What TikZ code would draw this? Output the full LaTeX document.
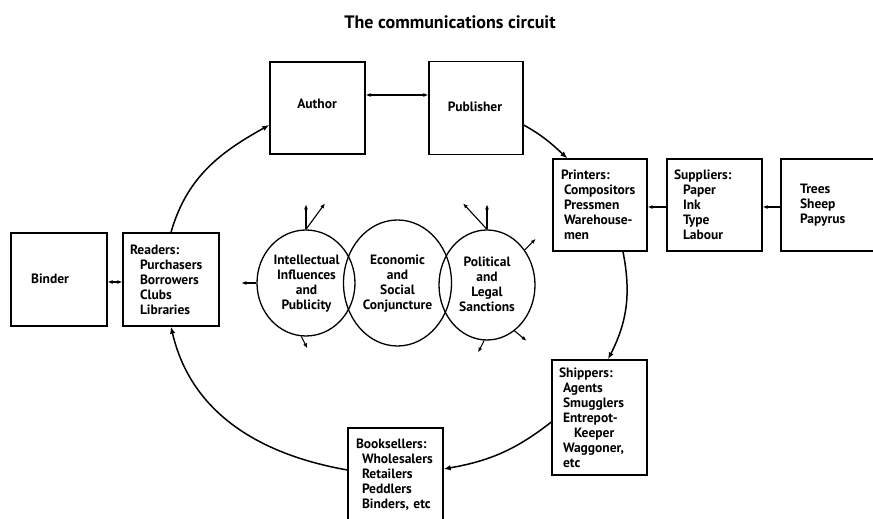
\documentclass[tikz,border=0pt]{standalone}
\usepackage{fontspec}
\setmainfont{PT Sans}
\newfontfamily\titlefont{PT Sans Bold}
\usetikzlibrary{arrows.meta,shapes.geometric,calc}
\begin{document}
\begin{tikzpicture}[x=1pt,y=1pt,
  cbox/.style={draw, line width=1.3pt, align=left, inner ysep=0pt, font=\bfseries\fontsize{13.5}{15}\selectfont},
  ell/.style={draw, ellipse, line width=1.3pt, inner sep=0pt},
  ctext/.style={align=center, font=\bfseries\fontsize{13.5}{15}\selectfont, inner sep=0pt},
  btext/.style={font=\bfseries\fontsize{13.5}{15}\selectfont, inner sep=0pt},
  ring/.style={line width=1.5pt, -{Latex[length=7pt,width=5.5pt]}},
  sarr/.style={line width=1.1pt, -{Latex[length=5pt,width=4pt]}},
  darr/.style={line width=1.3pt, {Latex[length=5pt,width=4pt]}-{Latex[length=5pt,width=4pt]}},
]
\useasboundingbox (0,0) rectangle (873,519);
\clip (0,0) rectangle (873,519);

% title
\node[font=\titlefont\fontsize{18}{20}\selectfont] (title) at (450,497) {The communications circuit};

% boxes
\node[cbox, minimum width=95pt, minimum height=92pt] (author) at (317.5,411) {};
\node[btext] (authortext) at (317,415) {Author};
\node[cbox, minimum width=94pt, minimum height=93pt] (publisher) at (476,411) {};
\node[btext] (publishertext) at (475,412) {Publisher};
\node[cbox, minimum width=96pt, minimum height=93pt] (binder) at (59,239.5) {};
\node[btext] (bindertext) at (50,240) {Binder};

\node[cbox, minimum width=96pt, minimum height=93pt, text width=82pt, inner xsep=7pt] (readers) at (171,239.5)
  {Readers:\\\hspace*{10pt}Purchasers\\\hspace*{10pt}Borrowers\\\hspace*{10pt}Clubs\\\hspace*{10pt}Libraries};

\node[cbox, minimum width=94pt, minimum height=92pt, text width=78pt, inner xsep=8pt] (printers) at (600,314)
  {Printers:\\\hspace*{3pt}Compositors\\\hspace*{3pt}Pressmen\\\hspace*{3pt}Warehouse-\\\hspace*{3pt}men};

\node[cbox, minimum width=95pt, minimum height=92pt, text width=81pt, inner xsep=7pt] (suppliers) at (714.5,314)
  {Suppliers:\\\hspace*{9pt}Paper\\\hspace*{9pt}Ink\\\hspace*{9pt}Type\\\hspace*{9pt}Labour};

\node[cbox, minimum width=102pt, minimum height=92pt, text width=64pt, inner xsep=19pt] (trees) at (832,314)
  {Trees\\Sheep\\Papyrus};

\node[cbox, minimum width=95pt, minimum height=115pt, text width=81pt, inner xsep=7pt] (shippers) at (599.5,101.5)
  {Shippers:\\\hspace*{4pt}Agents\\\hspace*{4pt}Smugglers\\\hspace*{4pt}Entrepot-\\\hspace*{15pt}Keeper\\\hspace*{4pt}Waggoner,\\\hspace*{4pt}etc};

\node[cbox, minimum width=95pt, minimum height=94pt, text width=79pt, inner xsep=8pt] (booksellers) at (395.5,44)
  {Booksellers:\\\hspace*{6pt}Wholesalers\\\hspace*{6pt}Retailers\\\hspace*{6pt}Peddlers\\\hspace*{6pt}Binders, etc};

% circles
\node[ell, minimum width=98pt, minimum height=106pt] (intel) at (306,236) {};
\node[ell, minimum width=108pt, minimum height=126pt] (econ) at (397.5,236) {};
\node[ell, minimum width=96pt, minimum height=110pt] (polit) at (487,234) {};
\node[ctext] (inteltext) at (306.5,235) {Intellectual\\Influences\\and\\Publicity};
\node[ctext] (econtext) at (397.5,235) {Economic\\and\\Social\\Conjuncture};
\node[ctext] (polittext) at (487,235) {Political\\and\\Legal\\Sanctions};

% small arrows from circles
\draw[sarr] (intel.north) -- ++(0,25);
\draw[sarr] (intel.north) -- ++(19,26);
\draw[sarr] (intel.west) -- ++(-15,0);
\draw[sarr] (intel.265) -- ++(6,-12);
\draw[sarr] (polit.north) -- ++(0,25);
\draw[sarr] (polit.north) -- ++(-24,26);
\draw[sarr] (polit.43) -- ++(11,11);
\draw[sarr] (polit.-59) -- ++(12,-10);
\draw[sarr] (polit.-93) -- ++(-6,-12);

% circuit
\draw[ring] (readers.north) to[out=74,in=209] ([yshift=-17pt]author.west);
\draw[darr] ([yshift=13pt]author.east) -- ([yshift=13pt]publisher.west);
\draw[ring] ([yshift=-17pt]publisher.east) to[out=-29,in=137] ([xshift=15pt]printers.north west);
\draw[ring] ([xshift=23pt]printers.south) to[out=-79,in=63] ([xshift=8.5pt]shippers.north);
\draw[ring] ([yshift=-4.5pt]shippers.west) to[out=-142,in=10] ([yshift=6pt]booksellers.east);
\draw[ring] ([yshift=5pt]booksellers.west) to[out=170,in=-77] (readers.south);

% side arrows
\draw[sarr] ([yshift=-2pt]suppliers.west) -- ([yshift=-2pt]printers.east);
\draw[sarr] ([yshift=-2pt]trees.west) -- ([yshift=-2pt]suppliers.east);
\draw[darr] ([yshift=-2.5pt]binder.east) -- ([yshift=-2.5pt]readers.west);
\end{tikzpicture}
\end{document}
